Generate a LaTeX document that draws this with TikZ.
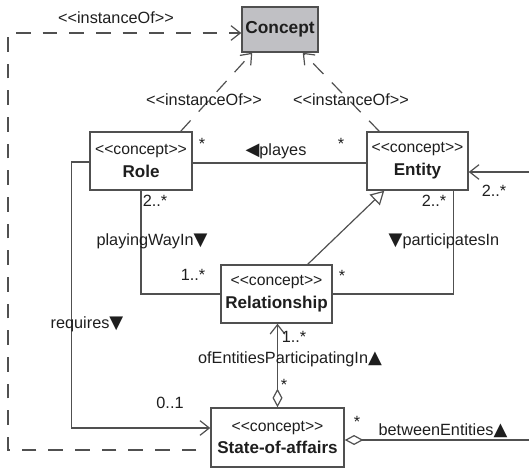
\documentclass[tikz,border=0pt]{standalone}
\usepackage{fontspec}
\setmainfont{Liberation Sans}
\newfontfamily\trifont{DejaVu Sans}
\usepackage{tikz}
\usetikzlibrary{arrows.meta,calc}

\definecolor{linegray}{RGB}{80,80,80}
\definecolor{textgray}{RGB}{30,30,30}
\definecolor{conceptfill}{RGB}{192,192,196}

\newcommand{\stereo}[1]{<\kern0pt<#1>\kern0pt>}
\newcommand{\cbox}[1]{{\stereo{concept}}\\{\fontsize{12.8}{17}\selectfont\bfseries #1}}
\newcommand{\tdn}{{\trifont\fontsize{13.5}{14}\selectfont ▼}}
\newcommand{\tup}{{\trifont\fontsize{13.5}{14}\selectfont ▲}}
\newcommand{\tlf}{{\trifont\fontsize{13.5}{14}\selectfont ◀}}

\tikzset{
  conceptbox/.style={draw=linegray, line width=1.1pt, fill=white, align=center, inner sep=0pt,
    minimum height=43.5pt, text=textgray, font=\fontsize{11.8}{17}\selectfont},
  lbl/.style={inner sep=0.75pt, text=textgray, text height=9pt, text depth=2.6pt,
    font=\fontsize{12.2}{14}\selectfont},
  conn/.style={draw=linegray, line width=0.9pt},
  openhead/.style={-{Straight Barb[length=7pt,width=11pt]}},
  inst/.style={conn, openhead, dash pattern=on 11pt off 9pt},
}

\begin{document}
\begin{tikzpicture}[x=0.75pt,y=0.75pt,yscale=-1,xscale=1]
\useasboundingbox (0,0) rectangle (529,468);

% Boxes
\node[conceptbox, fill=conceptfill, minimum width=57pt, minimum height=33.75pt,
  font=\fontsize{13}{15}\selectfont\bfseries] (concept) at (280,29.5) {Concept};
\node[conceptbox, minimum width=76.5pt] (role) at (141,161) {\cbox{Role}};
\node[conceptbox, minimum width=75.75pt] (entity) at (417.5,161) {\cbox{Entity}};
\node[conceptbox, minimum width=83.25pt] (relationship) at (276.5,294) {\cbox{Relationship}};
\node[conceptbox, minimum width=99.75pt, minimum height=44.25pt] (state) at (277.5,437.5) {\cbox{State-of-affairs}};

% free ends
\coordinate (dCorner) at (8,33);
\coordinate (eIn) at (529,172);
\coordinate (sEnd) at (529,440);

% instanceOf
\draw[inst] ($(role.north east)+(-12,0)$) -- ($(concept.south west)+(11,0)$);
\draw[inst] ($(entity.north west)+(13,0)$) -- ($(concept.south east)+(-16,0)$);
\draw[inst] ($(state.west)+(-14,12.5)$) -| (dCorner) -- ($(concept.west)+(0,3.5)$);

% associations
\draw[conn] ($(role.east)+(0,2)$) -- ($(entity.west)+(0,2)$);
\draw[conn] (role.south) |- (relationship.west);
\draw[conn] ($(entity.south east)+(-15,0)$) |- (relationship.east);
\draw[conn, -{Triangle[open,length=10pt,width=11pt]}] ($(relationship.north east)+(-25,0)$) -- ($(entity.south west)+(18,0)$);
\draw[conn, {Diamond[open,length=14pt,width=7.5pt]}-{Straight Barb[length=7pt,width=11pt]}] (state.north) -- (state.north |- relationship.south);
\draw[conn, openhead] ($(role.west)+(0,1)$) -- ++(-18,0) |- ($(state.west)+(0,-9.5)$);
\draw[conn, {Diamond[open,length=14pt,width=7.5pt]}-] ($(state.east)+(0,2.5)$) -- (sEnd);
\draw[conn, openhead] (eIn) -- (entity.east |- eIn);

% Labels
\node[lbl] (lInstTop) at (116,19) {\stereo{instanceOf}};
\node[lbl] (lInstRole) at (204,101) {\stereo{instanceOf}};
\node[lbl] (lInstEntity) at (351,101) {\stereo{instanceOf}};
\node[lbl] (mRolePl) at (202,145.5) {*};
\node[lbl] (lPlayes) at (276,151) {\tlf playes};
\node[lbl] (mEntPl) at (341,145) {*};
\node[lbl] (mRoleWay) at (155,202) {2..*};
\node[lbl] (lWay) at (152,241) {playingWayIn\tdn};
\node[lbl] (mEntPart) at (434,202) {2..*};
\node[lbl] (lPart) at (444,241) {\tdn participatesIn};
\node[lbl] (mEntIn) at (494,192) {2..*};
\node[lbl] (mRelWay) at (193,276) {1..*};
\node[lbl] (mRelPart) at (342,277.5) {*};
\node[lbl] (lReq) at (87,324) {requires\tdn};
\node[lbl] (mRelOf) at (294,338) {1..*};
\node[lbl] (lOf) at (290,359) {ofEntitiesParticipatingIn\tup};
\node[lbl] (mStateOf) at (284,386.5) {*};
\node[lbl] (mStateReq) at (170,404) {0..1};
\node[lbl] (mStateBtw) at (357,423.5) {*};
\node[lbl] (lBtw) at (443,431) {betweenEntities\tup};

\end{tikzpicture}
\end{document}
